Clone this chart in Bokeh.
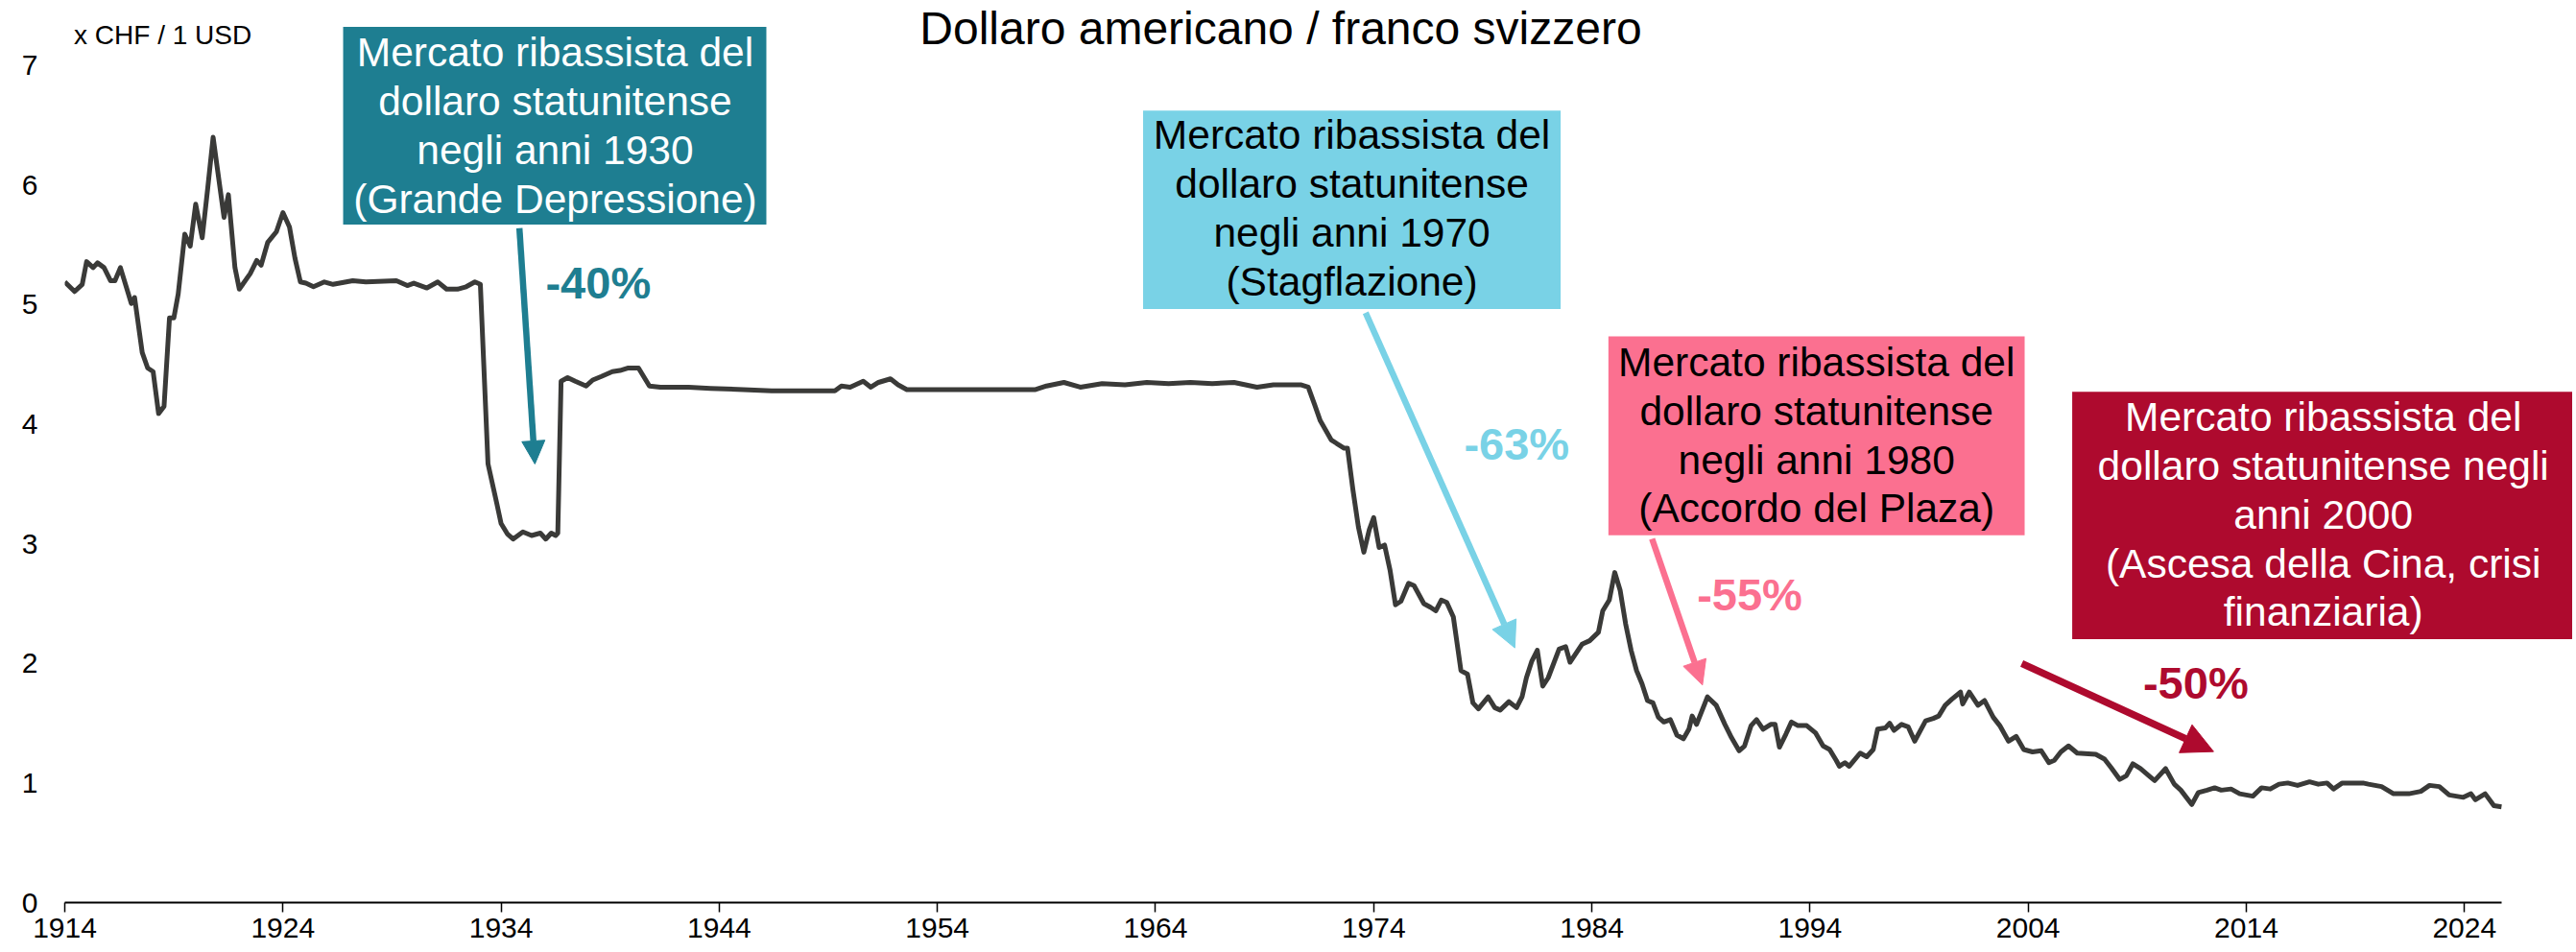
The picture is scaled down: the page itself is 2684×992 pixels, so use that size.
from bokeh.plotting import figure
from bokeh.models import Range1d, FixedTicker, Arrow, NormalHead
from bokeh.embed import file_html
from bokeh.resources import INLINE
from bokeh.core.properties import value

# ---------------- data ----------------
years = [1914.0, 1914.45, 1914.8, 1915.0, 1915.3, 1915.5, 1915.8, 1916.1, 1916.3, 1916.55,
         1917.05, 1917.2, 1917.55, 1917.8, 1918.05, 1918.3, 1918.55, 1918.8, 1919.0, 1919.2,
         1919.5, 1919.75, 1920.0, 1920.3, 1920.55, 1920.8, 1921.0, 1921.3, 1921.5, 1921.8,
         1922.0, 1922.5, 1922.8, 1923.0, 1923.3, 1923.7, 1924.0, 1924.3, 1924.55, 1924.8,
         1925.05, 1925.4, 1925.9, 1926.3, 1927.2, 1927.8, 1929.2, 1929.7, 1930.0, 1930.6,
         1931.1, 1931.5, 1932.0, 1932.4, 1932.8, 1933.05, 1933.4, 1933.8, 1934.0, 1934.3,
         1934.55, 1935.0, 1935.4, 1935.8, 1936.05, 1936.3, 1936.5, 1936.6, 1936.75, 1937.05,
         1937.4, 1937.9, 1938.2, 1938.6, 1939.1, 1939.45, 1939.8, 1940.3, 1940.8, 1941.3,
         1942.6, 1943.6, 1945.1, 1946.4, 1947.6, 1949.3, 1949.6, 1950.0, 1950.6, 1950.95,
         1951.3, 1951.85, 1952.2, 1952.6, 1953.5, 1956.0, 1958.5, 1959.0, 1959.8, 1960.55,
         1961.55, 1962.6, 1963.6, 1964.6, 1965.6, 1966.6, 1967.6, 1968.65, 1969.4, 1970.65,
         1971.0, 1971.3, 1971.55, 1972.05, 1972.3, 1972.65, 1972.8, 1973.05, 1973.3, 1973.55,
         1973.8, 1974.0, 1974.25, 1974.5, 1974.75, 1975.0, 1975.25, 1975.6, 1975.85, 1976.3,
         1976.6, 1976.85, 1977.1, 1977.35, 1977.65, 1978.0, 1978.3, 1978.55, 1978.8, 1979.25,
         1979.55, 1979.8, 1980.2, 1980.55, 1980.8, 1981.0, 1981.25, 1981.5, 1981.75, 1982.0,
         1982.5, 1982.8, 1983.0, 1983.55, 1983.9, 1984.3, 1984.5, 1984.8, 1985.05, 1985.3,
         1985.55, 1985.8, 1986.05, 1986.3, 1986.55, 1986.8, 1987.05, 1987.3, 1987.6, 1987.9,
         1988.2, 1988.45, 1988.6, 1988.8, 1989.3, 1989.7, 1990.1, 1990.4, 1990.75, 1991.0,
         1991.3, 1991.55, 1991.85, 1992.2, 1992.4, 1992.6, 1992.9, 1993.15, 1993.45, 1993.85,
         1994.25, 1994.6, 1994.9, 1995.2, 1995.35, 1995.6, 1995.8, 1996.3, 1996.6, 1996.9,
         1997.1, 1997.45, 1997.65, 1997.85, 1998.2, 1998.5, 1998.8, 1999.3, 1999.65, 1999.9,
         2000.2, 2000.5, 2000.9, 2001.0, 2001.3, 2001.7, 2002.0, 2002.4, 2002.7, 2003.1,
         2003.45, 2003.8, 2004.2, 2004.6, 2004.95, 2005.2, 2005.5, 2005.85, 2006.25, 2007.1,
         2007.5, 2007.8, 2008.2, 2008.5, 2008.8, 2009.15, 2009.6, 2009.8, 2010.3, 2010.7,
         2011.0, 2011.5, 2011.8, 2012.2, 2012.55, 2012.85, 2013.3, 2013.7, 2014.3, 2014.7,
         2015.1, 2015.5, 2015.9, 2016.35, 2016.9, 2017.3, 2017.7, 2018.0, 2018.4, 2018.95,
         2019.35, 2019.6, 2020.2, 2020.75, 2021.45, 2022.0, 2022.4, 2022.85, 2023.3, 2023.95,
         2024.3, 2024.5, 2024.95, 2025.35, 2025.7]
usdchf = [5.19, 5.11, 5.17, 5.36, 5.31, 5.35, 5.31, 5.20, 5.20, 5.31,
          5.01, 5.06, 4.60, 4.47, 4.44, 4.09, 4.15, 4.89, 4.89, 5.09,
          5.59, 5.49, 5.84, 5.56, 5.97, 6.40, 6.13, 5.73, 5.92, 5.31,
          5.13, 5.26, 5.37, 5.33, 5.52, 5.61, 5.77, 5.65, 5.39, 5.19,
          5.18, 5.15, 5.19, 5.17, 5.20, 5.19, 5.20, 5.16, 5.18, 5.14,
          5.19, 5.13, 5.13, 5.15, 5.19, 5.17, 3.67, 3.34, 3.17, 3.08,
          3.04, 3.10, 3.07, 3.09, 3.04, 3.09, 3.07, 3.09, 4.36, 4.39,
          4.36, 4.32, 4.37, 4.40, 4.44, 4.45, 4.47, 4.47, 4.32, 4.31,
          4.31, 4.30, 4.29, 4.28, 4.28, 4.28, 4.32, 4.31, 4.36, 4.31,
          4.35, 4.38, 4.33, 4.29, 4.29, 4.29, 4.29, 4.32, 4.35, 4.31,
          4.34, 4.33, 4.35, 4.34, 4.35, 4.34, 4.35, 4.31, 4.33, 4.33,
          4.31, 4.16, 4.03, 3.87, 3.84, 3.80, 3.80, 3.45, 3.14, 2.93,
          3.12, 3.22, 2.97, 2.99, 2.78, 2.49, 2.52, 2.67, 2.65, 2.50,
          2.47, 2.44, 2.53, 2.51, 2.39, 1.94, 1.91, 1.67, 1.62, 1.72,
          1.63, 1.61, 1.68, 1.63, 1.72, 1.88, 2.02, 2.11, 1.81, 1.88,
          2.12, 2.14, 2.01, 2.16, 2.19, 2.26, 2.44, 2.53, 2.76, 2.61,
          2.33, 2.11, 1.94, 1.83, 1.69, 1.67, 1.55, 1.51, 1.53, 1.40,
          1.37, 1.45, 1.56, 1.49, 1.72, 1.65, 1.49, 1.38, 1.27, 1.31,
          1.48, 1.53, 1.45, 1.49, 1.49, 1.30, 1.41, 1.51, 1.48, 1.48,
          1.42, 1.31, 1.28, 1.19, 1.14, 1.17, 1.14, 1.25, 1.22, 1.28,
          1.45, 1.46, 1.50, 1.44, 1.49, 1.47, 1.35, 1.52, 1.54, 1.56,
          1.65, 1.70, 1.76, 1.66, 1.76, 1.65, 1.69, 1.55, 1.48, 1.35,
          1.39, 1.28, 1.26, 1.27, 1.17, 1.19, 1.26, 1.31, 1.25, 1.24,
          1.20, 1.13, 1.03, 1.06, 1.16, 1.12, 1.05, 1.02, 1.12, 0.99,
          0.94, 0.82, 0.92, 0.94, 0.96, 0.94, 0.95, 0.91, 0.89, 0.96,
          0.95, 0.99, 1.00, 0.98, 1.01, 0.99, 1.00, 0.95, 1.00, 1.00,
          1.00, 0.99, 0.97, 0.91, 0.91, 0.93, 0.98, 0.97, 0.90, 0.88,
          0.91, 0.86, 0.91, 0.81, 0.80]

x_ticks = [1914, 1924, 1934, 1944, 1954, 1964, 1974, 1984, 1994, 2004, 2014, 2024]
y_ticks = [0, 1, 2, 3, 4, 5, 6, 7]

title_text = "Dollaro americano / franco svizzero"
unit_text = "x CHF / 1 USD"

box_lines = [
    ["Mercato ribassista del", "dollaro statunitense", "negli anni 1930", "(Grande Depressione)"],
    ["Mercato ribassista del", "dollaro statunitense", "negli anni 1970", "(Stagflazione)"],
    ["Mercato ribassista del", "dollaro statunitense", "negli anni 1980", "(Accordo del Plaza)"],
    ["Mercato ribassista del", "dollaro statunitense negli", "anni 2000",
     "(Ascesa della Cina, crisi", "finanziaria)"],
]
pct_labels = ["-40%", "-63%", "-55%", "-50%"]

# ---------------- styling / layout (annotation placement, data units) ----------------
FONT = "Liberation Sans"
LINE_COLOR = "#3a3a38"
colors = ["#1e7e91", "#79d2e6", "#fb7090", "#ae0a2e"]
text_colors = ["white", "black", "black", "white"]

# box: left, right, top, bottom, text centre x, first text line (middle)
box_geom = [
    (1926.76, 1946.16, 7.323, 5.671, 1936.48, 7.109),
    (1963.43, 1982.57, 6.623, 4.964, 1973.00, 6.418),
    (1984.76, 2003.84, 4.735, 3.072, 1994.30, 4.518),
    (2006.02, 2030.00, 4.272, 2.204, 2017.53, 4.059),
]
LINE_STEP = 0.4077

# arrows: x_start, y_start, x_end, y_end, line width, head size
arrow_geom = [
    (1934.84, 5.640, 1935.55, 3.668, 6.5, 24),
    (1973.63, 4.933, 1980.47, 2.130, 6.5, 27),
    (1986.76, 3.042, 1989.07, 1.819, 6.5, 25),
    (2003.71, 2.000, 2012.50, 1.263, 7.5, 32),
]
pct_pos = [(1936.04, 5.187), (1978.14, 3.835), (1988.82, 2.579), (2009.27, 1.836)]

p = figure(width=2680, height=990, output_backend="svg", toolbar_location=None,
           x_range=Range1d(1914, 2028.96), y_range=Range1d(0, 7.544),
           min_border_left=67, min_border_right=0, min_border_top=0,
           min_border_bottom=50)
p.outline_line_color = None
p.background_fill_color = "white"
p.border_fill_color = "white"
p.xgrid.visible = False
p.ygrid.visible = False

xa = p.xaxis[0]
xa.ticker = FixedTicker(ticks=x_ticks)
xa.bounds = (1914, 2025.7)
xa.axis_line_color = "black"
xa.axis_line_width = 2
xa.major_tick_line_color = "black"
xa.major_tick_line_width = 1.5
xa.major_tick_out = 10
xa.major_tick_in = 0
xa.minor_tick_line_color = None
xa.minor_tick_out = 0
xa.major_label_standoff = 6
xa.major_label_text_font = FONT
xa.major_label_text_font_size = "30px"
xa.major_label_text_color = "black"

ya = p.yaxis[0]
ya.ticker = FixedTicker(ticks=y_ticks)
ya.axis_line_color = None
ya.major_tick_line_color = None
ya.minor_tick_line_color = None
ya.major_tick_out = 0
ya.minor_tick_out = 0
ya.major_label_standoff = 28
ya.major_label_text_font = FONT
ya.major_label_text_font_size = "30px"
ya.major_label_text_color = "black"

# main series
p.line(years, usdchf, line_color=LINE_COLOR, line_width=5, line_join="round")

# annotation boxes
p.quad(left=[g[0] for g in box_geom], right=[g[1] for g in box_geom],
       top=[g[2] for g in box_geom], bottom=[g[3] for g in box_geom],
       fill_color=colors, line_color=None)

for lines, g, tc in zip(box_lines, box_geom, text_colors):
    ys = [g[5] - i * LINE_STEP for i in range(len(lines))]
    p.text(x=[g[4]] * len(lines), y=ys, text=lines, text_align="center",
           text_baseline="middle", text_font=value(FONT),
           text_font_size="42.5px", text_color=tc)

# arrows
for g, c in zip(arrow_geom, colors):
    p.add_layout(Arrow(end=NormalHead(size=g[5], fill_color=c, line_color=c, line_width=1),
                       x_start=g[0], y_start=g[1], x_end=g[2], y_end=g[3],
                       line_color=c, line_width=g[4]))

# percentage labels
p.text(x=[q[0] for q in pct_pos], y=[q[1] for q in pct_pos], text=pct_labels,
       text_align="left", text_baseline="middle", text_font=value(FONT),
       text_font_size="47px", text_font_style="bold", text_color=colors)

# title & unit label
p.text(x=[1969.74], y=[7.315], text=[title_text], text_align="center",
       text_baseline="middle", text_font=value(FONT), text_font_size="48px",
       text_color="black")
p.text(x=[1914.42], y=[7.253], text=[unit_text], text_align="left",
       text_baseline="middle", text_font=value(FONT), text_font_size="28px",
       text_color="black")

open("out.html", "w").write(file_html(p, INLINE))
